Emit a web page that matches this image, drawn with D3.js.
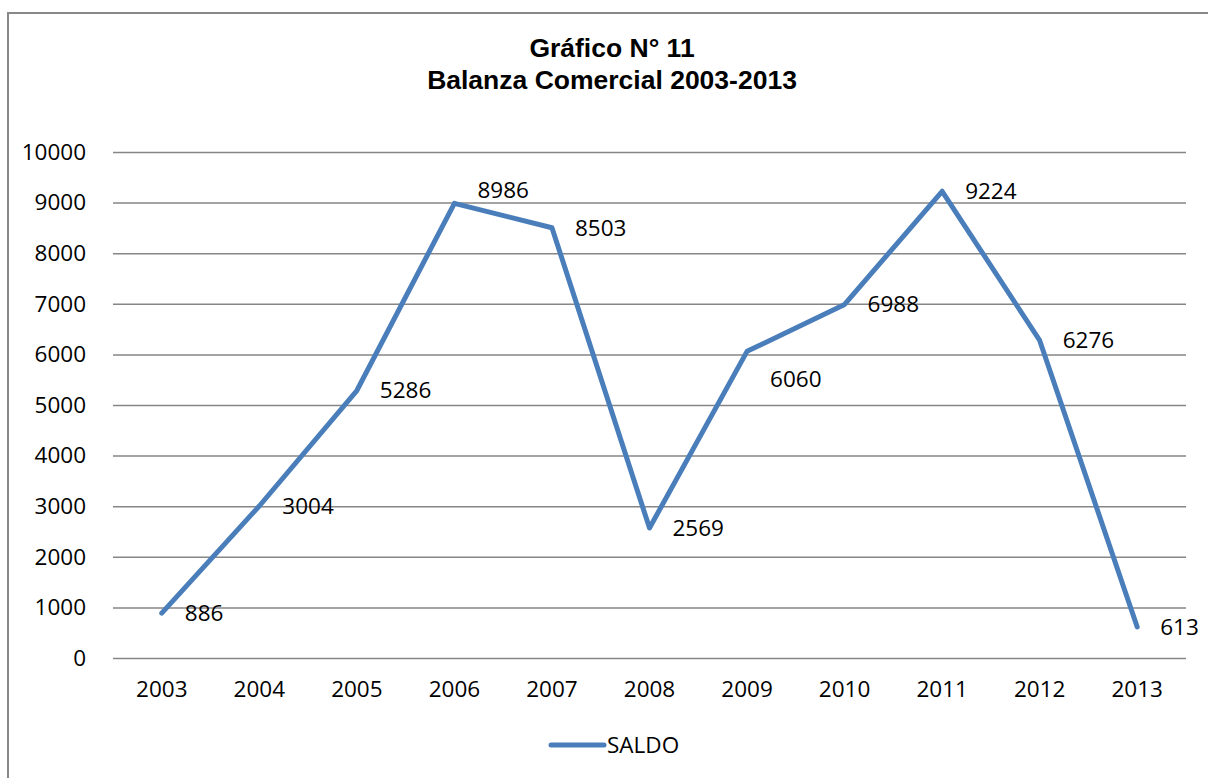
<!DOCTYPE html>
<html>
<head>
<meta charset="utf-8">
<script src="https://cdn.jsdelivr.net/npm/d3@7"></script>
<style>
  html, body { margin:0; padding:0; background:#fff; }
  svg { display:block; }
</style>
</head>
<body>
<svg id="chart" width="1208" height="778"></svg>
<script>
// data
const years = ['2003','2004','2005','2006','2007','2008','2009','2010','2011','2012','2013'];
const saldo = [886, 3004, 5286, 8986, 8503, 2569, 6060, 6988, 9224, 6276, 613];
const yTicks = [0,1000,2000,3000,4000,5000,6000,7000,8000,9000,10000];
const seriesName = 'SALDO';
const titleLines = ['Gráfico N° 11', 'Balanza Comercial 2003-2013'];

// label nudges where the original moved a label off the point
const labelShift = {'2006': -13, '2009': 28};

const svg = d3.select('#chart');
const W = 1208, H = 778;
const m = {left:113, right:22, top:152, bottom:120};
const lineColor = '#4a7ebb', gridColor = '#868686';
const font = '"Open Sans", "Noto Sans", sans-serif';
const fs = '22.5px';

// outer frame, runs off the right and bottom
svg.append('rect').attr('x', 8).attr('y', 13).attr('width', 1250).attr('height', 800)
    .attr('fill', 'none').attr('stroke', '#888').attr('stroke-width', 2);

const x = d3.scaleBand().domain(years).range([m.left, W - m.right]);
const y = d3.scaleLinear().domain([0, 10000]).range([H - m.bottom, m.top]);

// title
svg.append('text').attr('x', 612).attr('y', 57)
    .attr('text-anchor', 'middle')
    .style('font-family', '"Liberation Sans", Arial, sans-serif')
    .style('font-weight', 'bold').style('font-size', '26.5px')
  .selectAll('tspan').data(titleLines).join('tspan')
    .attr('x', 612).attr('dy', (d, i) => i ? 32 : 0).text(d => d);

// gridlines + y labels
const yAxis = d3.axisLeft(y).tickValues(yTicks).tickFormat(d3.format('d'))
    .tickSize(-(W - m.left - m.right)).tickPadding(27);
const gy = svg.append('g').attr('transform', `translate(${m.left},0)`).call(yAxis);
gy.select('.domain').remove();
gy.selectAll('.tick line').attr('stroke', gridColor).attr('stroke-width', 1.5);
gy.selectAll('.tick text').style('font-family', font).style('font-size', fs).attr('fill', '#000');

// x labels
const xAxis = d3.axisBottom(x).tickSize(0).tickPadding(23);
const gx = svg.append('g').attr('transform', `translate(0,${H - m.bottom})`).call(xAxis);
gx.select('.domain').remove();
gx.selectAll('.tick text').style('font-family', font).style('font-size', fs).attr('fill', '#000');

const cx = d => x(d) + x.bandwidth() / 2;

// series
const line = d3.line().x((d, i) => cx(years[i])).y(d => y(d));
svg.append('path').datum(saldo).attr('d', line)
    .attr('fill', 'none').attr('stroke', lineColor).attr('stroke-width', 5)
    .attr('stroke-linecap', 'round').attr('stroke-linejoin', 'round');

// value labels
svg.append('g').selectAll('text').data(saldo).join('text')
    .attr('x', (d, i) => cx(years[i]) + 23)
    .attr('y', (d, i) => y(d) + (labelShift[years[i]] || 0))
    .attr('dy', '0.35em')
    .style('font-family', font).style('font-size', fs).attr('fill', '#000')
    .text(d => d);

// legend
const lg = svg.append('g').attr('transform', 'translate(551,745)');
lg.append('line').attr('x1', 0).attr('x2', 53).attr('y1', 0).attr('y2', 0)
    .attr('stroke', lineColor).attr('stroke-width', 5).attr('stroke-linecap', 'round');
lg.append('text').attr('x', 56).attr('y', 0).attr('dy', '0.35em')
    .style('font-family', font).style('font-size', fs).text(seriesName);
</script>
</body>
</html>
